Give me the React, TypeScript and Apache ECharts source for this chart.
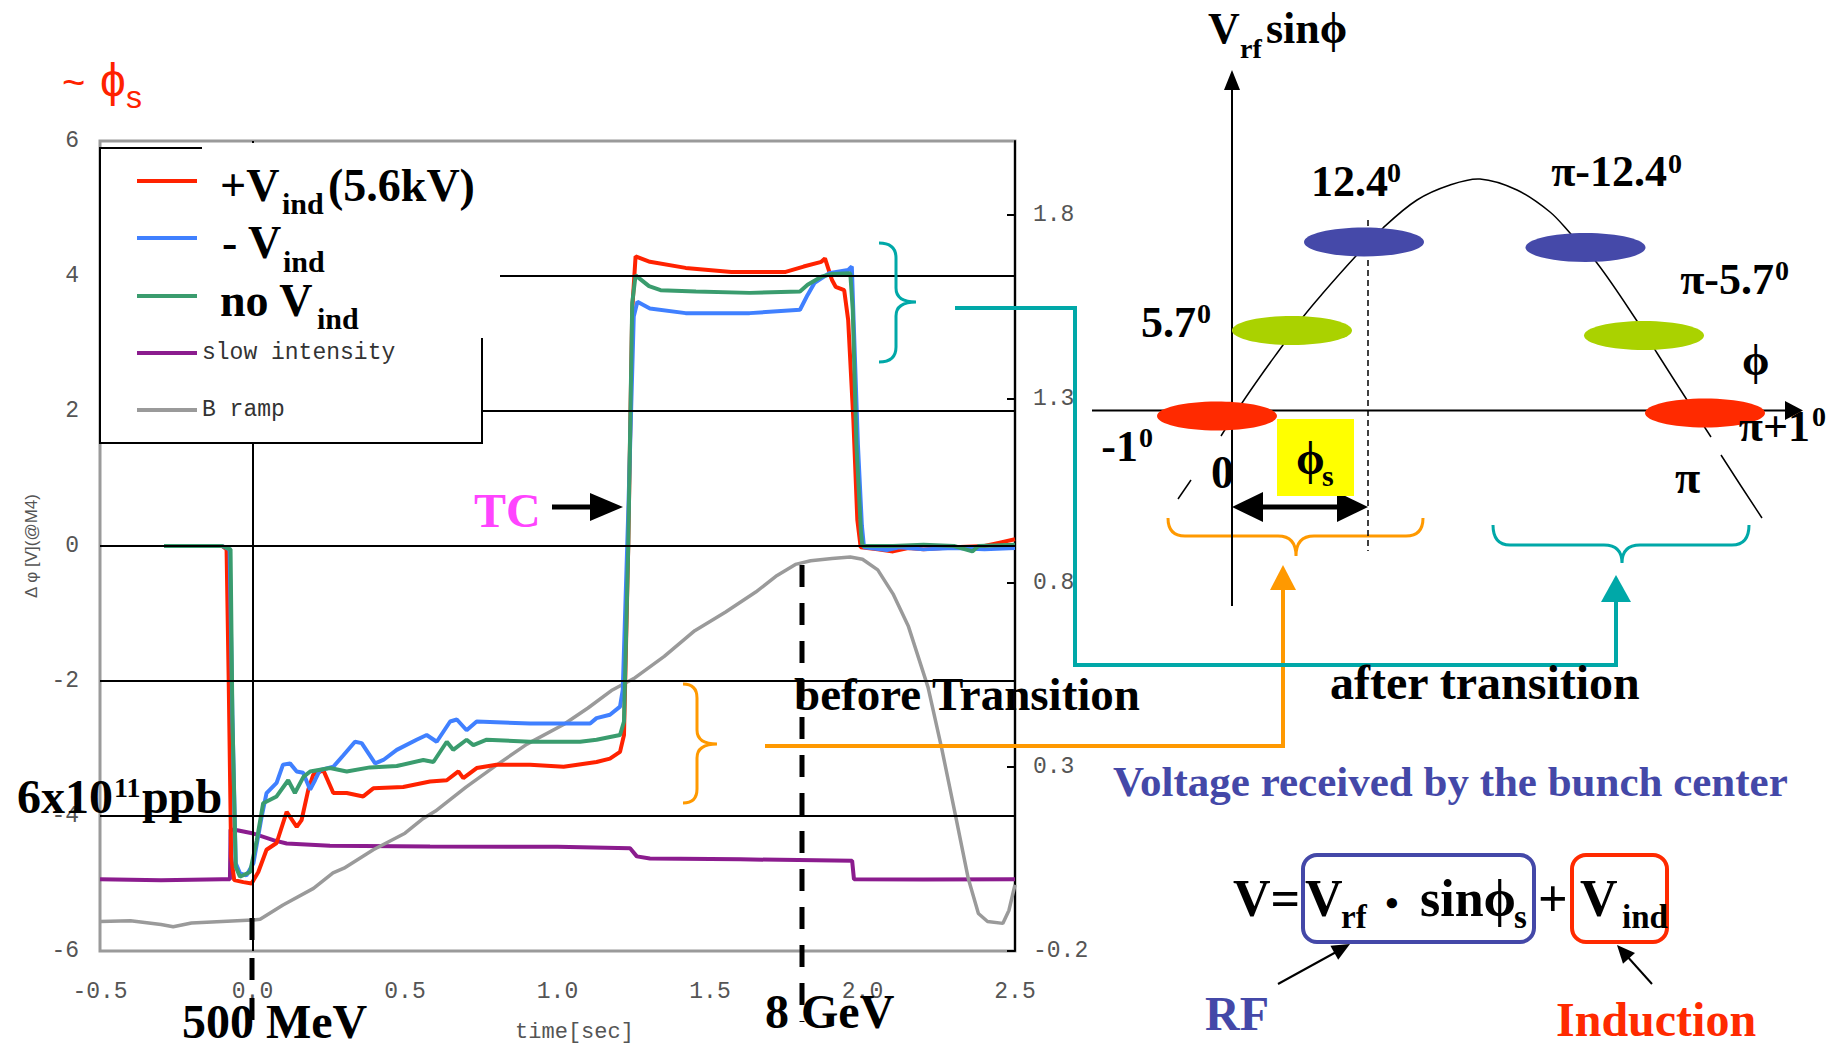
import React, { useEffect, useRef } from 'react';
import * as echarts from 'echarts';

// ---------------- data (time [s], value) ----------------
const plusVind: [number, number][] = [
  [-0.29, 0.0], [-0.2, 0.0], [-0.1, 0.0], [-0.085, -0.05], [-0.078, -2.0], [-0.07, -4.6], [-0.06, -4.95],
  [-0.03, -4.98], [-0.003, -5.0], [0.019, -4.83], [0.046, -4.5], [0.079, -4.4], [0.112, -3.94], [0.145, -4.16],
  [0.161, -4.06], [0.183, -3.61], [0.199, -3.39], [0.232, -3.32], [0.265, -3.66], [0.309, -3.66], [0.363, -3.71],
  [0.396, -3.59], [0.494, -3.57], [0.582, -3.49], [0.637, -3.47], [0.675, -3.34], [0.691, -3.44], [0.735, -3.29],
  [0.8, -3.24], [0.91, -3.24], [1.02, -3.27], [1.128, -3.2], [1.172, -3.15], [1.205, -3.05], [1.218, -2.8],
  [1.232, 0.0], [1.245, 3.5], [1.256, 4.29], [1.303, 4.21], [1.42, 4.12], [1.57, 4.06], [1.748, 4.06],
  [1.807, 4.14], [1.865, 4.21], [1.877, 4.26], [1.9, 3.94], [1.912, 3.84], [1.94, 3.79], [1.953, 3.35],
  [1.97, 1.87], [1.983, 0.39], [1.994, -0.02], [2.05, -0.05], [2.1, -0.08], [2.15, -0.03], [2.2, -0.05],
  [2.3, -0.02], [2.4, 0.0], [2.45, 0.05], [2.5, 0.1],
];
const minusVind: [number, number][] = [
  [-0.29, 0.0], [-0.1, 0.0], [-0.075, -0.05], [-0.066, -2.5], [-0.055, -4.7], [-0.041, -4.85], [-0.02, -4.88],
  [0.003, -4.7], [0.03, -4.01], [0.046, -3.66], [0.079, -3.51], [0.1, -3.24], [0.123, -3.22], [0.145, -3.34],
  [0.166, -3.36], [0.189, -3.61], [0.205, -3.47], [0.221, -3.32], [0.265, -3.27], [0.298, -3.1], [0.336, -2.9],
  [0.358, -2.92], [0.402, -3.22], [0.429, -3.17], [0.473, -3.02], [0.538, -2.87], [0.571, -2.8], [0.604, -2.9],
  [0.648, -2.6], [0.67, -2.57], [0.702, -2.73], [0.735, -2.6], [0.8, -2.61], [0.91, -2.63], [1.02, -2.63],
  [1.107, -2.63], [1.128, -2.55], [1.172, -2.5], [1.205, -2.38], [1.214, -2.13], [1.232, 0.5], [1.25, 3.4],
  [1.262, 3.62], [1.303, 3.52], [1.42, 3.45], [1.63, 3.45], [1.795, 3.5], [1.82, 3.72], [1.843, 3.9],
  [1.89, 4.04], [1.953, 4.09], [1.965, 4.14], [1.972, 3.2], [1.985, 1.5], [1.998, 0.3], [2.005, -0.02],
  [2.08, -0.06], [2.12, -0.02], [2.2, -0.05], [2.3, -0.03], [2.4, -0.05], [2.5, -0.03],
];
const noVind: [number, number][] = [
  [-0.29, 0.0], [-0.1, 0.0], [-0.072, -0.05], [-0.066, -2.5], [-0.055, -4.75], [-0.041, -4.9], [-0.008, -4.83],
  [0.014, -4.36], [0.035, -3.81], [0.079, -3.71], [0.117, -3.47], [0.139, -3.66], [0.167, -3.42], [0.189, -3.34],
  [0.254, -3.29], [0.309, -3.34], [0.385, -3.28], [0.473, -3.26], [0.56, -3.17], [0.593, -3.2], [0.637, -2.9],
  [0.658, -3.02], [0.702, -2.87], [0.724, -2.95], [0.768, -2.87], [0.91, -2.9], [1.074, -2.9], [1.128, -2.87],
  [1.205, -2.8], [1.218, -2.6], [1.232, 0.0], [1.245, 3.6], [1.256, 4.01], [1.3, 3.85], [1.338, 3.79],
  [1.454, 3.77], [1.63, 3.75], [1.795, 3.77], [1.82, 3.87], [1.865, 3.99], [1.9, 4.03], [1.96, 4.04],
  [1.968, 3.5], [1.98, 1.5], [1.995, 0.2], [2.0, 0.0], [2.1, 0.0], [2.2, 0.02], [2.3, 0.0], [2.36, -0.08],
  [2.38, 0.0], [2.5, 0.02],
];
// right axis units
const slowIntensity: [number, number][] = [
  [-0.5, -0.005], [-0.3, -0.008], [-0.1, -0.005], [-0.074, -0.005], [-0.072, 0.13], [-0.05, 0.128],
  [0.003, 0.119], [0.068, 0.101], [0.112, 0.092], [0.254, 0.086], [0.582, 0.084], [1.0, 0.083], [1.238, 0.079],
  [1.26, 0.057], [1.303, 0.051], [1.6, 0.049], [1.966, 0.045], [1.972, -0.005], [2.2, -0.006], [2.5, -0.005],
];
const bRamp: [number, number][] = [
  [-0.5, -0.12], [-0.4, -0.118], [-0.3, -0.128], [-0.26, -0.134], [-0.2, -0.124], [-0.1, -0.12], [0.0, -0.116],
  [0.025, -0.114], [0.1, -0.075], [0.2, -0.03], [0.264, 0.012], [0.3, 0.025], [0.396, 0.075], [0.5, 0.12],
  [0.56, 0.16], [0.6, 0.18], [0.7, 0.245], [0.8, 0.305], [0.9, 0.362], [1.02, 0.415], [1.1, 0.46], [1.18, 0.509],
  [1.25, 0.54], [1.35, 0.6], [1.45, 0.67], [1.55, 0.72], [1.65, 0.775], [1.72, 0.82], [1.78, 0.85], [1.83, 0.86],
  [1.9, 0.866], [1.96, 0.87], [2.0, 0.864], [2.05, 0.835], [2.1, 0.77], [2.15, 0.683], [2.215, 0.516],
  [2.26, 0.349], [2.304, 0.172], [2.347, -0.004], [2.38, -0.098], [2.41, -0.12], [2.46, -0.125], [2.48, -0.09],
  [2.5, -0.02],
];
const gridLevels = [4, 2, 0, -2, -4];
const rightTicks = [-0.2, 0.3, 0.8, 1.3, 1.8];

// ---------------- styles ----------------
const mono = "'Liberation Mono', 'DejaVu Sans Mono', monospace";
const serif = "'Liberation Serif', 'Times New Roman', serif";
const sans = "'Liberation Sans', Arial, sans-serif";
const RED = '#FF2200';
const BLUE = '#4080FF';
const GREEN = '#3A9C6E';
const PURPLE = '#8B1C8E';
const GRAY = '#9a9a9a';
const IND = '#4448A8';
const ORANGE = '#FF9900';
const TEAL = '#00A8A8';
const PHI = 'ϕ';

const braceShapes: Record<string, string> = {
  braceOrangeV: 'M683,684 Q697,684 697,698 L697,730 Q697,744 717,744 Q697,744 697,758 L697,789 Q697,803 683,803',
  braceTealV: 'M879,243 Q896,243 896,258 L896,288 Q896,302 916,302 Q896,302 896,316 L896,347 Q896,362 879,362',
  braceOrangeH: 'M1168,518 Q1168,536 1185,536 L1278,536 Q1296,536 1296,556 Q1296,536 1314,536 L1406,536 Q1423,536 1423,518',
  braceTealH: 'M1493,525 Q1493,545 1510,545 L1604,545 Q1622,545 1622,563 Q1622,545 1640,545 L1732,545 Q1749,545 1749,525',
};
Object.keys(braceShapes).forEach((k) => {
  echarts.graphic.registerShape(k, echarts.graphic.extendPath(braceShapes[k], {}));
});

const tx = (text: string, x: number, y: number, size: number, o: any = {}) => ({
  type: 'text',
  x,
  y,
  z: 40,
  silent: true,
  style: {
    text,
    fontSize: size,
    fontFamily: o.family ?? serif,
    fontWeight: o.weight ?? 'bold',
    fill: o.color ?? '#000',
    align: o.align ?? 'left',
    verticalAlign: 'middle',
  },
});
const ln = (x1: number, y1: number, x2: number, y2: number, color: string, w: number, dash?: number[], z = 20) => ({
  type: 'line',
  z,
  silent: true,
  shape: { x1, y1, x2, y2 },
  style: { stroke: color, lineWidth: w, lineDash: dash },
});
const poly = (pts: number[][], color: string, z = 20) => ({
  type: 'polygon',
  z,
  silent: true,
  shape: { points: pts },
  style: { fill: color },
});
const ell = (cx: number, cy: number, color: string) => ({
  type: 'ellipse',
  z: 22,
  silent: true,
  shape: { cx, cy, rx: 60, ry: 14.5 },
  style: { fill: color },
});
const brace = (name: string, color: string) => ({
  type: name,
  z: 20,
  silent: true,
  style: { stroke: color, fill: 'none', lineWidth: 3 },
});

const graphics: any[] = [
  // legend box
  { type: 'rect', z: 10, silent: true, shape: { x: 100, y: 148, width: 382, height: 295 }, style: { fill: '#fff', stroke: '#000', lineWidth: 2 } },
  { type: 'rect', z: 11, silent: true, shape: { x: 202, y: 143, width: 298, height: 195 }, style: { fill: '#fff' } },
  ln(137, 181, 197, 181, RED, 4, undefined, 12),
  ln(137, 238, 197, 238, BLUE, 4, undefined, 12),
  ln(137, 296, 197, 296, GREEN, 4, undefined, 12),
  ln(137, 353, 197, 353, PURPLE, 4, undefined, 12),
  ln(137, 410, 197, 410, GRAY, 4, undefined, 12),
  tx('+V', 220, 185, 46),
  tx('ind', 282, 203, 30),
  tx('(5.6kV)', 328, 185, 46),
  tx('- V', 222, 242, 46),
  tx('ind', 283, 261, 30),
  tx('no V', 220, 300, 46),
  tx('ind', 317, 318, 30),
  tx('slow intensity', 202, 353, 23, { family: mono, weight: 'normal', color: '#333' }),
  tx('B ramp', 202, 410, 23, { family: mono, weight: 'normal', color: '#333' }),

  // ~ phi_s
  tx('~', 62, 82, 40, { family: sans, weight: 'normal', color: RED }),
  tx(PHI, 100, 80, 46, { family: sans, weight: 'normal', color: RED }),
  tx('s', 126, 97, 32, { family: sans, weight: 'normal', color: RED }),

  // TC + arrow
  tx('TC', 474, 510, 48, { color: '#FF44FF' }),
  ln(552, 507, 595, 507, '#000', 5),
  poly([[623, 507], [590, 493], [590, 521]], '#000'),

  // left annotations
  tx('6x10', 17, 796, 48),
  tx('11', 114, 787, 28),
  tx('ppb', 142, 796, 48),
  tx('500 MeV', 182, 1021, 48),
  tx('8 GeV', 765, 1011, 48),
  tx('before Transition', 794, 694, 47),
  ln(252, 918, 252, 1035, '#000', 5, [22, 18]),
  ln(802, 565, 802, 1022, '#000', 5, [22, 16]),

  // braces and connectors
  brace('braceOrangeV', ORANGE),
  brace('braceTealV', TEAL),
  brace('braceOrangeH', ORANGE),
  brace('braceTealH', TEAL),
  ln(765, 746, 1285, 746, ORANGE, 4),
  ln(1283, 748, 1283, 586, ORANGE, 4),
  poly([[1283, 565], [1270, 590], [1296, 590]], ORANGE),
  ln(955, 308, 1077, 308, TEAL, 4),
  ln(1075, 306, 1075, 667, TEAL, 4),
  ln(1073, 665, 1618, 665, TEAL, 4),
  ln(1616, 667, 1616, 598, TEAL, 4),
  poly([[1616, 575], [1601, 602], [1631, 602]], TEAL),

  // diagram axes
  ln(1232, 606, 1232, 86, '#000', 2),
  poly([[1232, 70], [1224, 90], [1240, 90]], '#000'),
  ln(1092, 410.5, 1790, 410.5, '#000', 2),
  poly([[1803, 410.5], [1785, 401], [1785, 420]], '#000'),
  // sine curve (schematic)
  { type: 'polyline', z: 21, silent: true, shape: { points: [[1178, 499], [1191, 480]] }, style: { stroke: '#000', lineWidth: 1.5 } },
  {
    type: 'polyline', z: 21, silent: true,
    shape: {
      smooth: 0.35,
      points: [[1221, 436], [1242, 403], [1262, 374], [1283, 345], [1303, 317], [1323, 293], [1355, 257], [1383, 228],
        [1417, 200], [1450, 185], [1480, 179], [1517, 190], [1550, 212], [1570, 233], [1597, 263], [1637, 321],
        [1657, 353], [1687, 400], [1711, 437]],
    },
    style: { stroke: '#000', lineWidth: 1.5 },
  },
  { type: 'polyline', z: 21, silent: true, shape: { points: [[1721, 455], [1741, 486], [1762, 518]] }, style: { stroke: '#000', lineWidth: 1.5 } },
  ln(1368, 220, 1368, 551, '#000', 1.5, [6, 4]),
  ell(1217, 416, '#FF2A00'),
  ell(1292, 330.5, '#AAD200'),
  ell(1364, 242, '#4549A9'),
  ell(1585.5, 247.5, '#4549A9'),
  ell(1644, 335.5, '#AAD200'),
  ell(1705, 413, '#FF2A00'),
  { type: 'rect', z: 22, silent: true, shape: { x: 1277, y: 419, width: 77, height: 77 }, style: { fill: '#FFFF00' } },
  tx(PHI, 1296, 458, 46),
  tx('s', 1322, 475, 30),
  ln(1260, 507, 1340, 507, '#000', 5),
  poly([[1232, 507], [1263, 492], [1263, 522]], '#000'),
  poly([[1368, 507], [1337, 492], [1337, 522]], '#000'),

  // diagram labels
  tx('V', 1208, 28, 44),
  tx('rf', 1240, 48, 28),
  tx('sin' + PHI, 1266, 28, 44),
  tx('12.4', 1311, 181, 44),
  tx('0', 1387, 172, 28),
  tx('π-12.4', 1667, 171, 44, { align: 'right' }),
  tx('0', 1668, 163, 28),
  tx('5.7', 1196, 322, 44, { align: 'right' }),
  tx('0', 1197, 313, 28),
  tx('π-5.7', 1774, 279, 44, { align: 'right' }),
  tx('0', 1775, 270, 28),
  tx(PHI, 1742, 360, 44),
  tx('π+1', 1810, 426, 44, { align: 'right' }),
  tx('0', 1812, 416, 28),
  tx('-1', 1138, 446, 44, { align: 'right' }),
  tx('0', 1139, 437, 28),
  tx('0', 1211, 472, 46),
  tx('π', 1675, 477, 46),
  tx('after transition', 1330, 682, 48),
  tx('Voltage received by the bunch center', 1113, 781, 43, { color: IND }),

  // formula
  { type: 'rect', z: 22, silent: true, shape: { x: 1303, y: 855, width: 231, height: 87, r: 14 }, style: { fill: 'none', stroke: IND, lineWidth: 4 } },
  { type: 'rect', z: 22, silent: true, shape: { x: 1572, y: 855, width: 95, height: 87, r: 14 }, style: { fill: 'none', stroke: '#FF2A00', lineWidth: 4 } },
  tx('V=', 1233, 898, 52),
  tx('V', 1305, 898, 52),
  tx('rf', 1341, 917, 33),
  tx('•', 1392, 903, 38, { align: 'center' }),
  tx('sin' + PHI, 1420, 898, 52),
  tx('s', 1514, 917, 33),
  tx('+', 1538, 898, 52),
  tx('V', 1580, 898, 52),
  tx('ind', 1622, 917, 33),
  tx('RF', 1205, 1013, 48, { color: IND }),
  tx('Induction', 1556, 1019, 48, { color: '#FF2A00' }),
  ln(1278, 984, 1338, 951, '#000', 2),
  poly([[1350, 944], [1338.2, 959.7], [1330.4, 945.7]], '#000'),
  ln(1652, 984, 1626, 955, '#000', 2),
  poly([[1617, 945], [1635, 953], [1623, 963.7]], '#000'),
];

const lineSeries = (name: string, data: [number, number][], color: string, width: number, yAxisIndex = 0) => ({
  type: 'line',
  name,
  data,
  yAxisIndex,
  showSymbol: false,
  symbol: 'none',
  silent: true,
  color,
  lineStyle: { color, width },
});

const option: any = {
  animation: false,
  backgroundColor: '#fff',
  grid: { left: 100, right: 830, top: 141, bottom: 97, show: true, borderColor: '#9a9a9a', borderWidth: 3 },
  xAxis: {
    type: 'value',
    min: -0.5,
    max: 2.5,
    interval: 0.5,
    axisLine: { show: false },
    axisTick: { show: false },
    splitLine: { show: false },
    axisLabel: { formatter: (v: number) => v.toFixed(1), fontFamily: mono, fontSize: 23, color: '#555', margin: 29 },
    name: 'time[sec]',
    nameLocation: 'middle',
    nameGap: 70,
    nameTextStyle: { fontFamily: mono, fontSize: 22, color: '#555', padding: [0, 0, 0, 34] },
  },
  yAxis: [
    {
      type: 'value',
      min: -6,
      max: 6,
      interval: 2,
      axisLine: { show: false },
      axisTick: { show: false },
      splitLine: { show: false },
      axisLabel: { fontFamily: mono, fontSize: 23, color: '#555', margin: 21 },
      name: 'Δ φ [V](@M4)',
      nameLocation: 'middle',
      nameGap: 60,
      nameRotate: 90,
      nameTextStyle: { fontFamily: sans, fontSize: 17, color: '#555' },
    },
    {
      type: 'value',
      position: 'right',
      min: -0.2,
      max: 2.0,
      interval: 0.5,
      axisLine: { show: true, lineStyle: { color: '#000', width: 2 } },
      axisTick: { show: true, inside: true, length: 8, customValues: rightTicks, lineStyle: { color: '#000', width: 2 } },
      splitLine: { show: false },
      axisLabel: {
        customValues: rightTicks,
        formatter: (v: number) => (v > 1.95 ? '' : v.toFixed(1)),
        fontFamily: mono,
        fontSize: 23,
        color: '#555',
        margin: 18,
      },
    },
  ],
  series: [
    {
      type: 'line',
      name: 'grid',
      data: [],
      silent: true,
      markLine: {
        silent: true,
        symbol: 'none',
        label: { show: false },
        lineStyle: { color: '#000', width: 2, type: 'solid' },
        data: [...gridLevels.map((v) => ({ yAxis: v })), { xAxis: 0 }],
      },
    },
    lineSeries('slow intensity', slowIntensity, PURPLE, 4, 1),
    lineSeries('B ramp', bRamp, GRAY, 3.5, 1),
    lineSeries('+Vind(5.6kV)', plusVind, RED, 4),
    lineSeries('- Vind', minusVind, BLUE, 4),
    lineSeries('no Vind', noVind, GREEN, 4),
  ],
  graphic: { elements: graphics },
};

export default function App() {
  const ref = useRef<HTMLDivElement>(null);
  useEffect(() => {
    const chart = echarts.init(ref.current!, null, { renderer: 'svg' });
    chart.setOption(option);
    return () => chart.dispose();
  }, []);
  return (
    <div
      ref={ref}
      style={{ position: 'fixed', left: 0, top: 0, width: 1845, height: 1048, background: '#fff' }}
    />
  );
}
